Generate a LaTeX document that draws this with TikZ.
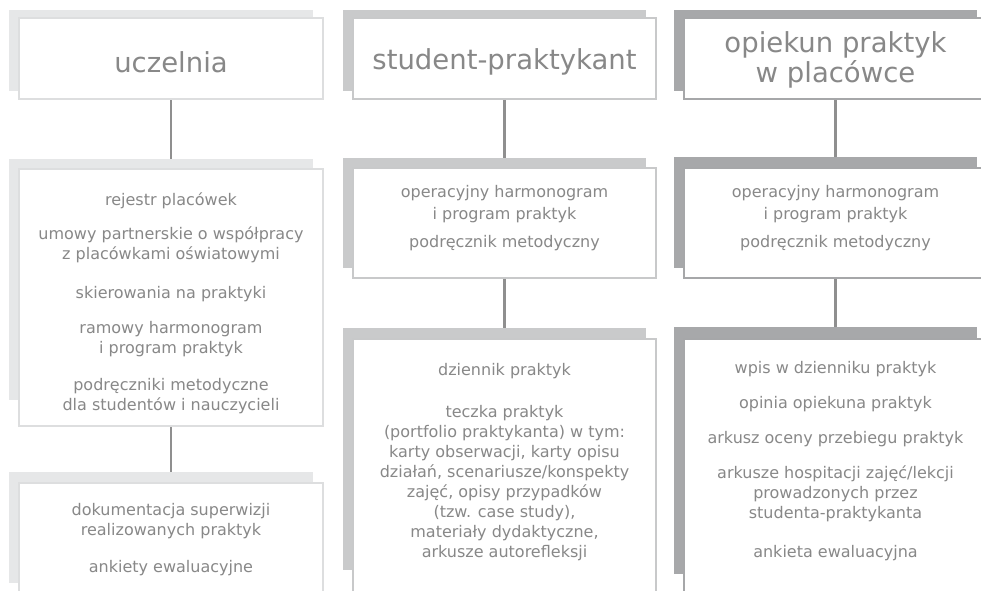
\documentclass[tikz,border=0pt]{standalone}
\usepackage{fontspec}
\setmainfont{DejaVu Sans}
\usetikzlibrary{positioning}
\pgfdeclarelayer{links}
\pgfdeclarelayer{shadows}
\pgfsetlayers{links,shadows,main}
\definecolor{txtgray}{RGB}{136,136,136}
\definecolor{linkgray}{RGB}{143,143,143}
\definecolor{shadeA}{RGB}{230,231,232}
\definecolor{shadeB}{RGB}{201,202,203}
\definecolor{shadeC}{RGB}{167,168,170}
\definecolor{edgeA}{RGB}{221,222,223}
\definecolor{edgeB}{RGB}{200,201,202}
\definecolor{edgeC}{RGB}{166,167,169}
\tikzset{
  box/.style={rectangle, fill=white, line width=2pt, anchor=north west, inner sep=0pt},
  boxA/.style={box, draw=edgeA},
  boxB/.style={box, draw=edgeB},
  boxC/.style={box, draw=edgeC},
  title/.style={text=txtgray, align=center, inner sep=0pt, font=\fontsize{27.5}{30}\selectfont},
  body/.style={text=txtgray, align=center, inner sep=0pt, font=\fontsize{16}{20}\selectfont},
  link/.style={draw=linkgray, line width=2.6pt},
}
\begin{document}
\begin{tikzpicture}[x=1pt, y=-1pt]
\useasboundingbox (0,0) rectangle (981,590);
\clip (0,0) rectangle (981,590);
% shadows {{{
\begin{pgfonlayer}{shadows}
\fill[shadeA] (9,10) rectangle (313,91);
\fill[shadeA] (9,159) rectangle (313,400);
\fill[shadeA] (9,472) rectangle (313,583);
\fill[shadeB] (343,10) rectangle (646,91);
\fill[shadeB] (343,158) rectangle (646,268);
\fill[shadeB] (343,328) rectangle (646,570);
\fill[shadeC] (674,10) rectangle (977,91);
\fill[shadeC] (674,157) rectangle (977,268);
\fill[shadeC] (674,327) rectangle (977,574);
\end{pgfonlayer} % }}}
% uczelnia {{{
\node[boxA, minimum width=304pt, minimum height=81pt] (uczelnia) at (18,17) {};
\node[title, below=34pt of uczelnia.north] (uczelniaTxt) {uczelnia};
\node[boxA, minimum width=304pt, minimum height=257pt] (uczDocs) at (18,168) {};
\node[body, below=24pt of uczDocs.north] (uczDocsTxt) {rejestr placówek\\[14pt]
  umowy partnerskie o współpracy\\ z placówkami oświatowymi\\[19pt]
  skierowania na praktyki\\[15pt]
  ramowy harmonogram\\ i program praktyk\\[17pt]
  podręczniki metodyczne\\ dla studentów i nauczycieli};
\node[boxA, minimum width=304pt, minimum height=118pt] (uczEval) at (18,482) {};
\node[body, below=21pt of uczEval.north] (uczEvalTxt) {dokumentacja superwizji\\ realizowanych praktyk\\[17pt]
  ankiety ewaluacyjne};
% }}}
% student-praktykant {{{
\node[boxB, minimum width=303pt, minimum height=81pt] (student) at (352,17) {};
\node[title, below=31pt of student.north] (studentTxt) {student-praktykant};
\node[boxB, minimum width=303pt, minimum height=110pt] (studDocs) at (352,167) {};
\node[body, below=18pt of studDocs.north, font=\fontsize{16}{22}\selectfont] (studDocsTxt) {operacyjny harmonogram\\ i program praktyk\\[6pt]
  podręcznik metodyczny};
\node[boxB, minimum width=303pt, minimum height=262pt] (studEval) at (352,338) {};
\node[body, below=25pt of studEval.north] (studEvalTxt) {dziennik praktyk\\[22pt]
  teczka praktyk\\ (portfolio praktykanta) w tym:\\ karty obserwacji, karty opisu\\
  działań, scenariusze/konspekty\\ zajęć, opisy przypadków\\ (tzw. case study),\\
  materiały dydaktyczne,\\ arkusze autorefleksji};
% }}}
% opiekun praktyk {{{
\node[boxC, minimum width=303pt, minimum height=81pt] (opiekun) at (683,17) {};
\node[title, below=14pt of opiekun.north] (opiekunTxt) {opiekun praktyk\\ w placówce};
\node[boxC, minimum width=303pt, minimum height=110pt] (opDocs) at (683,167) {};
\node[body, below=18pt of opDocs.north, font=\fontsize{16}{22}\selectfont] (opDocsTxt) {operacyjny harmonogram\\ i program praktyk\\[6pt]
  podręcznik metodyczny};
\node[boxC, minimum width=303pt, minimum height=262pt] (opEval) at (683,338) {};
\node[body, below=23pt of opEval.north] (opEvalTxt) {wpis w dzienniku praktyk\\[15pt]
  opinia opiekuna praktyk\\[15pt]
  arkusz oceny przebiegu praktyk\\[15pt]
  arkusze hospitacji zajęć/lekcji\\ prowadzonych przez\\ studenta-praktykanta\\[19pt]
  ankieta ewaluacyjna};
% }}}
% connectors {{{
\begin{pgfonlayer}{links}
\draw[link] (uczelnia.south) -- (uczDocs.north);
\draw[link] (uczDocs.south) -- (uczEval.north);
\draw[link] (student.south) -- (studDocs.north);
\draw[link] (studDocs.south) -- (studEval.north);
\draw[link] (opiekun.south) -- (opDocs.north);
\draw[link] (opDocs.south) -- (opEval.north);
\end{pgfonlayer} % }}}
\end{tikzpicture}
\end{document}
